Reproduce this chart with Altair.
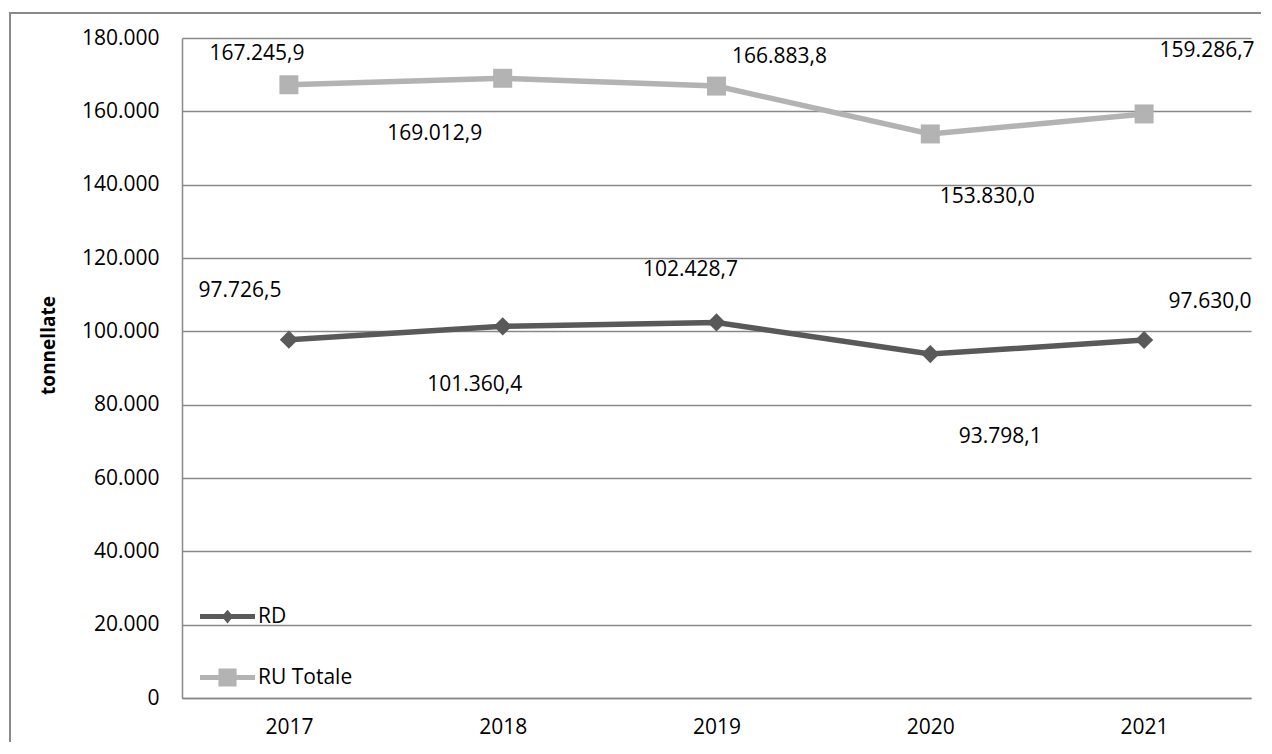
import altair as alt
import pandas as pd

years = ["2017", "2018", "2019", "2020", "2021"]
rd_values = [97726.5, 101360.4, 102428.7, 93798.1, 97630.0]
ru_values = [167245.9, 169012.9, 166883.8, 153830.0, 159286.7]
series_names = ["RD", "RU Totale"]
y_ticks = [0, 20000, 40000, 60000, 80000, 100000, 120000, 140000, 160000, 180000]


def it_fmt(v):
    return f"{v:,.1f}".replace(",", "X").replace(".", ",").replace("X", ".")


rows = []
for y, v in zip(years, rd_values):
    rows.append({"year": y, "series": "RD", "value": v, "label": it_fmt(v)})
for y, v in zip(years, ru_values):
    rows.append({"year": y, "series": "RU Totale", "value": v, "label": it_fmt(v)})
df = pd.DataFrame(rows)

RD_COLOR = "#595959"
RU_COLOR = "#b3b3b3"
GRID = "#898989"
FONT = "Open Sans"
FS = 21

x_enc = alt.X("year:O", scale=alt.Scale(type="point", padding=0.5), sort=years,
              axis=alt.Axis(title=None, ticks=False, grid=False, domainColor=GRID,
                            domainWidth=1.5, labelFontSize=FS, labelFont=FONT,
                            labelColor="#000", labelPadding=18, labelAngle=0))
y_enc = alt.Y("value:Q", scale=alt.Scale(domain=[0, 180000], nice=False, zero=True),
              axis=alt.Axis(title="tonnellate", values=y_ticks, ticks=False,
                            grid=True, gridColor=GRID, gridWidth=1.5,
                            domainColor=GRID, domainWidth=1.5,
                            labelFontSize=FS, labelFont=FONT, labelColor="#000",
                            labelPadding=23,
                            labelExpr="replace(format(datum.value, ','), regexp(',', 'g'), '.')",
                            titleFont=FONT, titleFontSize=19, titleFontWeight="bold",
                            titleColor="#000", titleAngle=-90, titleX=-134, titleY=307,
                            titleBaseline="middle", titleAlign="center"))

color_scale = alt.Scale(domain=series_names, range=[RD_COLOR, RU_COLOR])

base = alt.Chart(df)
rd_base = base.transform_filter(alt.datum.series == "RD")
ru_base = base.transform_filter(alt.datum.series == "RU Totale")

rd_line = rd_base.mark_line(strokeWidth=5.5, color=RD_COLOR).encode(x=x_enc, y=y_enc)
ru_line = ru_base.mark_line(strokeWidth=5.5, color=RU_COLOR).encode(x=x_enc, y=y_enc)

rd_pts = rd_base.mark_point(
    shape="diamond", filled=True, size=330, opacity=1, color=RD_COLOR, strokeWidth=0
).encode(x=x_enc, y=y_enc)

ru_pts = ru_base.mark_point(
    shape="square", filled=True, size=361, opacity=1, color=RU_COLOR, strokeWidth=0
).encode(x=x_enc, y=y_enc)

offsets = {
    ("RU Totale", "2017"): (-32, -31),
    ("RU Totale", "2018"): (-68, 56),
    ("RU Totale", "2019"): (63, -29),
    ("RU Totale", "2020"): (57, 63),
    ("RU Totale", "2021"): (63, -63),
    ("RD", "2017"): (-49, -49),
    ("RD", "2018"): (-28, 59),
    ("RD", "2019"): (-26, -52),
    ("RD", "2020"): (70, 83),
    ("RD", "2021"): (66, -38),
}

label_layers = []
for (s, yr), (dx, dy) in offsets.items():
    label_layers.append(
        base.transform_filter((alt.datum.series == s) & (alt.datum.year == yr))
        .mark_text(dx=dx, dy=dy, font=FONT, fontSize=FS, color="#000",
                   align="center", baseline="middle")
        .encode(x=x_enc, y=y_enc, text="label:N"))

rd_path = "M-1,-0.09H1V0.09H-1Z M0,-0.25L0.21,0L0,0.25L-0.21,0Z"
ru_path = "M-1,-0.09H1V0.09H-1Z M-0.33,-0.33H0.33V0.33H-0.33Z"

leg = alt.Legend(title=None, orient="none", legendX=18, legendY=551, padding=0,
                 symbolSize=3025, symbolStrokeWidth=0, labelFont=FONT,
                 labelFontSize=FS, labelColor="#000", labelOffset=3, rowPadding=23,
                 symbolOpacity=1)

legend_layer = base.mark_point(filled=True, opacity=0, size=1).encode(
    x=x_enc, y=y_enc,
    color=alt.Color("series:N", scale=color_scale, legend=leg),
    shape=alt.Shape("series:N", scale=alt.Scale(domain=series_names, range=[rd_path, ru_path]),
                    legend=leg))

one = alt.Chart(pd.DataFrame({"a": [0]}))
frame_v = one.mark_rule(color=GRID, strokeWidth=2).encode(
    x=alt.value(-172), y=alt.value(-25), y2=alt.value(800))
frame_h = one.mark_rule(color=GRID, strokeWidth=2).encode(
    y=alt.value(-25), x=alt.value(-173), x2=alt.value(1200))

chart = alt.layer(rd_line, ru_line, rd_pts, ru_pts, *label_layers, legend_layer,
                  frame_v, frame_h).properties(
    width=1069, height=660,
    autosize=alt.AutoSizeParams(type="none"),
    padding={"left": 174, "top": 30, "right": 10, "bottom": 44},
).configure_view(stroke=None)

chart.save("out.html", embed_options={"renderer": "svg", "actions": False})
